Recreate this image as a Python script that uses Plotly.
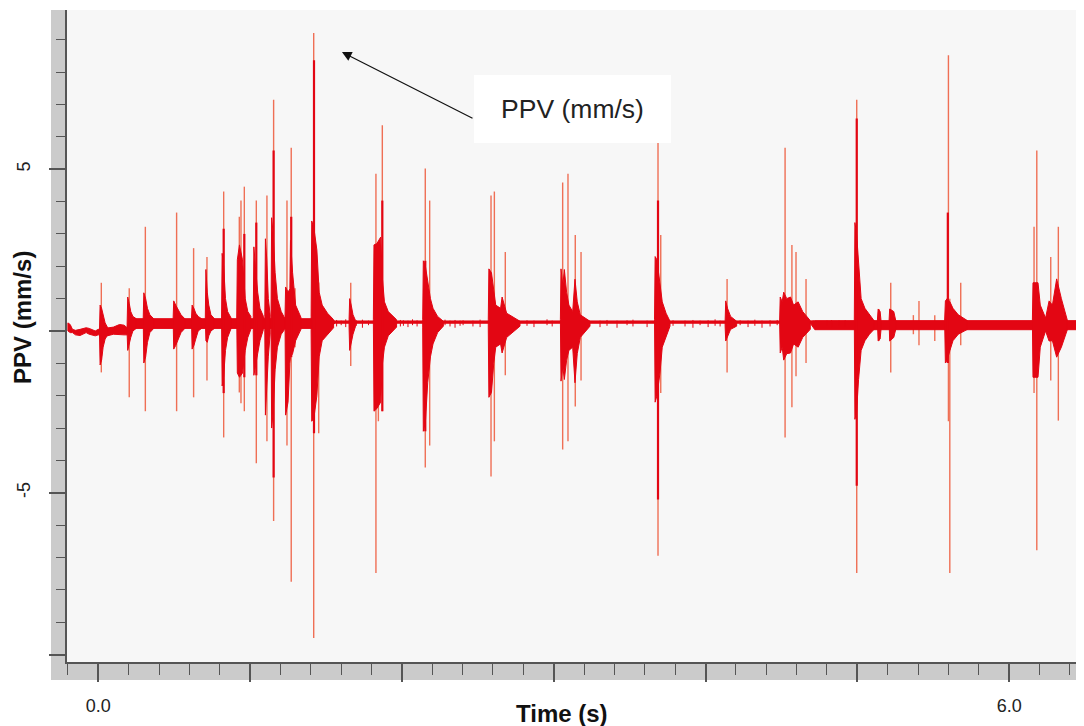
import plotly.graph_objects as go

# ---------------- data ----------------
# thin spikes: time (s), max and min PPV (mm/s)
spike_t = [0.020, 0.204, 0.310, 0.516, 0.628, 0.716, 0.826, 0.929, 0.940, 0.962,
           1.041, 1.111, 1.155, 1.243, 1.271, 1.296, 1.419, 1.452,
           1.663, 1.829, 1.845, 1.871, 2.154, 2.183, 2.587, 2.609, 2.681,
           3.059, 3.094, 3.142, 3.180, 3.687, 3.705, 4.142, 4.524, 4.569, 4.596, 4.662,
           4.996, 5.143, 5.220, 5.369, 5.406, 5.510, 5.600, 5.609, 5.681,
           6.164, 6.182, 6.274, 6.324]
spike_hi = [1.49, 1.32, 3.22, 3.66, 2.56, 2.29, 4.31, 3.53, 4.03, 4.46,
            4.03, 4.19, 7.15, 4.03, 5.66, 1.32, 9.21, 1.50,
            1.49, 4.86, 2.00, 6.36, 5.02, 4.03, 4.19, 4.31, 2.44,
            4.59, 4.86, 2.97, 2.44, 5.83, 2.97, 1.61, 5.66, 2.66, 2.44, 1.61,
            7.15, 0.68, 1.49, 0.49, 0.93, 0.49, 8.52, 1.00, 1.49,
            3.22, 5.58, 2.29, 3.22]
spike_lo = [-1.28, -2.05, -2.48, -2.48, -2.05, -1.53, -3.29, -1.90, -2.23, -2.48,
            -4.09, -3.41, -5.87, -3.54, -7.75, -0.50, -9.49, -3.16,
            -1.08, -7.48, -2.79, -2.48, -4.22, -3.54, -4.50, -3.41, -1.37,
            -3.66, -3.41, -2.33, -1.53, -6.95, -1.92, -1.28, -3.29, -2.36, -1.40, -0.99,
            -7.48, -0.31, -1.28, -0.10, -0.44, -0.31, -2.79, -7.48, -0.44,
            -1.92, -6.78, -1.53, -2.77]

# dark narrow cores of the strongest spikes
core_t = [0.826, 0.962, 1.041, 1.155, 1.271, 1.421, 1.871, 2.154, 3.687, 4.996, 5.596]
core_hi = [3.16, 3.00, 3.35, 5.58, 3.53, 8.37, 4.03, 2.17, 4.03, 6.57, 3.66]
core_lo = [-1.92, -1.43, -1.37, -4.53, -0.81, -3.16, -2.48, -3.10, -5.21, -4.78, -0.99]

# small noise ticks on the quiet stretches of the trace
noise_t = [1.570, 1.600, 1.630, 1.700, 1.740, 1.780, 1.990, 2.010, 2.040, 2.070, 2.100,
           2.218, 2.251, 2.284, 2.317, 2.350, 2.383, 2.403, 2.468, 2.515,
           2.824, 2.870, 2.956, 2.990, 3.305, 3.351, 3.417, 3.483, 3.522, 3.615,
           3.786, 3.865, 3.917, 3.964, 4.017, 4.063, 4.096, 4.228, 4.280, 4.325,
           4.372, 4.425, 4.472, 4.800, 4.830, 4.880, 4.920]
noise_hi = [0.34, 0.32, 0.36, 0.33, 0.35, 0.32, 0.34, 0.33, 0.32, 0.36, 0.33,
            0.33, 0.32, 0.35, 0.32, 0.34, 0.32, 0.33, 0.32, 0.35,
            0.33, 0.32, 0.36, 0.32, 0.32, 0.34, 0.32, 0.33, 0.35, 0.32,
            0.33, 0.32, 0.34, 0.32, 0.33, 0.36, 0.32, 0.33, 0.32, 0.35,
            0.32, 0.33, 0.34, 0.32, 0.33, 0.32, 0.33]
noise_lo = [0.14, 0.18, 0.12, 0.16, 0.10, 0.18, 0.14, 0.16, 0.12, 0.18, 0.14,
            0.16, 0.12, 0.18, 0.14, 0.10, 0.16, 0.18, 0.14, 0.12,
            0.16, 0.12, 0.18, 0.14, 0.12, 0.16, 0.10, 0.18, 0.14, 0.12,
            0.16, 0.14, 0.10, 0.18, 0.12, 0.16, 0.14, 0.18, 0.12, 0.16,
            0.10, 0.14, 0.18, 0.16, 0.12, 0.18, 0.14]

# envelopes of the dense bursts
burst_t = [
    [0.008, 0.012, 0.022, 0.032, 0.045, 0.062],
    [0.190, 0.194, 0.204, 0.214, 0.228, 0.250],
    [0.296, 0.300, 0.312, 0.324, 0.340, 0.365],
    [0.493, 0.497, 0.510, 0.525, 0.545, 0.570],
    [0.614, 0.618, 0.630, 0.642, 0.658, 0.680],
    [0.705, 0.709, 0.718, 0.728, 0.742, 0.765],
    [0.812, 0.816, 0.826, 0.838, 0.852, 0.875],
    [0.912, 0.916, 0.930, 0.950, 0.968, 0.985, 1.005],
    [1.021, 1.025, 1.035, 1.050, 1.065, 1.088],
    [1.097, 1.101, 1.110, 1.120, 1.132],
    [1.138, 1.142, 1.152, 1.165, 1.180, 1.205, 1.228],
    [1.230, 1.234, 1.250, 1.262, 1.266, 1.280, 1.300, 1.335],
    [1.402, 1.406, 1.420, 1.440, 1.455, 1.475, 1.510, 1.550],
    [1.652, 1.656, 1.666, 1.678, 1.695],
    [1.812, 1.816, 1.835, 1.860, 1.872, 1.885, 1.910, 1.965],
    [2.137, 2.141, 2.155, 2.170, 2.188, 2.205, 2.235, 2.273],
    [2.569, 2.573, 2.590, 2.605, 2.618, 2.650, 2.660, 2.690, 2.778],
    [3.044, 3.048, 3.060, 3.070, 3.085, 3.100, 3.125, 3.140, 3.155, 3.175, 3.239],
    [3.664, 3.668, 3.680, 3.700, 3.715, 3.740, 3.766],
    [4.129, 4.133, 4.145, 4.165, 4.205],
    [4.488, 4.492, 4.505, 4.515, 4.535, 4.560, 4.580, 4.610, 4.640, 4.690],
    [4.980, 4.984, 4.995, 5.008, 5.025, 5.050, 5.080, 5.110],
    [5.132, 5.137, 5.150, 5.156],
    [5.209, 5.213, 5.240, 5.253],
    [5.575, 5.580, 5.592, 5.610, 5.630, 5.665, 5.725],
    [6.153, 6.157, 6.190, 6.205, 6.240, 6.263, 6.285, 6.313, 6.344, 6.384],
]
burst_hi = [
    [0.05, 0.80, 0.70, 0.45, 0.25, 0.10],
    [0.20, 1.05, 0.85, 0.60, 0.45, 0.38],
    [0.38, 1.18, 1.00, 0.70, 0.50, 0.38],
    [0.38, 0.93, 0.80, 0.65, 0.50, 0.38],
    [0.38, 0.80, 0.70, 0.55, 0.45, 0.38],
    [0.38, 1.90, 1.20, 0.80, 0.50, 0.38],
    [0.38, 2.40, 2.00, 1.00, 0.60, 0.40],
    [0.40, 2.20, 2.66, 2.20, 1.00, 0.60, 0.45],
    [0.45, 2.60, 2.00, 1.20, 0.70, 0.45],
    [0.45, 2.85, 2.20, 1.00, 0.50],
    [0.45, 3.50, 3.00, 1.80, 1.00, 0.60, 0.40],
    [0.45, 1.36, 1.20, 1.30, 2.80, 1.80, 0.80, 0.42],
    [0.45, 3.40, 3.20, 2.50, 1.20, 0.80, 0.55, 0.35],
    [0.35, 1.00, 0.80, 0.50, 0.32],
    [0.35, 2.66, 2.70, 2.90, 1.60, 0.90, 0.60, 0.35],
    [0.35, 2.17, 2.00, 1.50, 1.00, 0.70, 0.45, 0.30],
    [0.35, 1.92, 1.80, 1.30, 0.80, 0.70, 1.05, 0.55, 0.30],
    [0.35, 1.92, 1.40, 1.90, 1.20, 0.80, 0.60, 1.60, 0.90, 0.50, 0.30],
    [0.35, 2.30, 2.20, 1.50, 0.90, 0.55, 0.30],
    [0.30, 0.93, 0.70, 0.45, 0.30],
    [0.30, 1.05, 0.90, 1.20, 1.00, 1.05, 0.80, 0.90, 0.60, 0.32],
    [0.32, 3.35, 3.00, 2.00, 1.00, 0.70, 0.50, 0.32],
    [0.32, 0.68, 0.60, 0.32],
    [0.32, 0.68, 0.60, 0.32],
    [0.32, 0.93, 1.00, 0.90, 0.70, 0.50, 0.32],
    [0.32, 1.49, 1.49, 0.80, 0.40, 0.93, 0.80, 1.61, 1.00, 0.32],
]
burst_lo = [
    [-0.10, -1.05, -0.90, -0.50, -0.25, -0.12],
    [-0.05, -0.60, -0.45, -0.20, 0.00, 0.08],
    [0.08, -0.99, -0.80, -0.35, -0.05, 0.08],
    [0.08, -0.56, -0.45, -0.30, -0.05, 0.08],
    [0.08, -0.56, -0.45, -0.25, 0.00, 0.08],
    [0.08, -0.30, -0.35, -0.15, 0.00, 0.08],
    [0.05, -1.70, -1.40, -0.60, -0.20, 0.08],
    [0.05, -1.30, -1.43, -1.30, -0.60, -0.20, 0.05],
    [0.00, -1.37, -1.20, -0.70, -0.30, 0.05],
    [0.00, -2.60, -2.00, -0.80, -0.10],
    [0.00, -3.00, -2.50, -1.20, -0.50, -0.10, 0.05],
    [0.00, -2.60, -2.20, -1.00, -0.81, -0.70, -0.30, 0.05],
    [0.00, -2.79, -2.70, -2.00, -0.80, -0.30, -0.10, 0.10],
    [0.12, -0.60, -0.45, -0.10, 0.15],
    [0.12, -2.48, -2.40, -2.20, -1.00, -0.50, -0.15, 0.12],
    [0.12, -3.10, -2.80, -1.60, -0.80, -0.40, -0.05, 0.15],
    [0.12, -2.05, -1.90, -1.00, -0.50, -0.40, -0.68, -0.20, 0.15],
    [0.12, -1.55, -1.10, -1.50, -0.90, -0.60, -0.50, -1.60, -0.70, -0.20, 0.15],
    [0.12, -2.20, -2.00, -1.30, -0.50, -0.15, 0.15],
    [0.15, -0.31, -0.20, 0.05, 0.15],
    [0.15, -0.68, -0.50, -0.90, -0.70, -0.68, -0.40, -0.50, -0.20, 0.05],
    [0.05, -2.73, -2.50, -1.50, -0.60, -0.30, -0.10, 0.05],
    [0.05, -0.31, -0.25, 0.05],
    [0.05, -0.31, -0.20, 0.05],
    [0.05, -0.99, -0.90, -0.60, -0.30, -0.10, 0.05],
    [0.05, -1.43, -1.43, -0.50, 0.00, -0.31, -0.30, -0.81, -0.50, 0.05],
]

# background noise band of the trace
base_t = [-0.200, -0.185, -0.170, -0.150, -0.120, -0.080, -0.060, -0.020, 0.000, 0.060,
          0.100, 0.140, 0.170, 0.190, 0.205, 1.500, 1.560, 4.690, 4.720, 6.500]
base_hi = [0.25, 0.20, 0.05, 0.02, 0.05, 0.10, 0.08, 0.00, 0.05, 0.10,
           0.12, 0.20, 0.18, 0.10, 0.38, 0.38, 0.31, 0.31, 0.32, 0.32]
base_lo = [0.00, -0.05, -0.05, -0.12, -0.14, -0.05, -0.10, -0.15, -0.12, -0.15,
           -0.10, -0.12, -0.12, -0.12, 0.08, 0.08, 0.24, 0.24, 0.04, 0.04]

x_major = [0, 1, 2, 3, 4, 5, 6]
x_labels = ["0.0", "", "", "", "", "", "6.0"]
y_major = [-10, -5, 0, 5]
y_labels = ["", "-5", "", "5"]

RED = "#e30613"
THIN = "#ef6f55"
FONT = "Arial, Liberation Sans, sans-serif"


def segments(ts, his, los):
    xs, ys = [], []
    for t, hi, lo in zip(ts, his, los):
        xs += [t, t, None]
        ys += [lo, hi, None]
    return xs, ys


sx, sy = segments(spike_t, spike_hi, spike_lo)
cx, cy = segments(core_t, core_hi, core_lo)
nx, ny = segments(noise_t, noise_hi, noise_lo)

bx, by = [], []
for ts, his, los in zip(burst_t, burst_hi, burst_lo):
    bx += ts + ts[::-1] + [ts[0], None]
    by += his + los[::-1] + [his[0], None]

fig = go.Figure()
fig.add_trace(go.Scatter(x=sx, y=sy, mode="lines", line=dict(color=THIN, width=1.4),
                         hoverinfo="skip"))
fig.add_trace(go.Scatter(x=base_t + base_t[::-1] + [base_t[0]],
                         y=base_hi + base_lo[::-1] + [base_hi[0]],
                         mode="lines", fill="toself", fillcolor=RED,
                         line=dict(color=RED, width=1), hoverinfo="skip"))
fig.add_trace(go.Scatter(x=nx, y=ny, mode="lines", line=dict(color=RED, width=1),
                         hoverinfo="skip"))
fig.add_trace(go.Scatter(x=bx, y=by, mode="lines", fill="toself", fillcolor=RED,
                         line=dict(color=RED, width=1), hoverinfo="skip"))
fig.add_trace(go.Scatter(x=cx, y=cy, mode="lines", line=dict(color=RED, width=2.2),
                         hoverinfo="skip"))

# the page body adds an 8 px margin: size the figure so the plot lands where the
# reference has it
W, H = 1076, 718
ML, MR, MT, MB = 59, 0, 2, 64
PW = W - ML - MR
PH = H - MT - MB

# grey tick bands around the frame
fig.add_shape(type="rect", xref="paper", yref="paper", x0=-16 / PW, x1=0, y0=-18 / PH, y1=1,
              fillcolor="#cbcbcb", line_width=0, layer="below")
fig.add_shape(type="rect", xref="paper", yref="paper", x0=-16 / PW, x1=1, y0=-18 / PH, y1=0,
              fillcolor="#cbcbcb", line_width=0, layer="below")

fig.update_layout(
    width=W, height=H,
    margin=dict(l=ML, r=MR, t=MT, b=MB, autoexpand=False),
    plot_bgcolor="#f7f7f7", paper_bgcolor="white",
    showlegend=False,
    font=dict(family=FONT, color="#222"),
    xaxis=dict(range=[-0.206, 6.493], showgrid=False, zeroline=False, automargin=False,
               showline=True, linecolor="#555", linewidth=1.5,
               ticks="outside", tickmode="array", tickvals=x_major, ticktext=x_labels,
               ticklen=18, tickwidth=1.5, tickcolor="#555",
               tickfont=dict(size=18, color="#222"), ticklabelstandoff=9,
               minor=dict(tickmode="linear", tick0=0, dtick=0.2, ticks="outside",
                          ticklen=11, tickwidth=1.2, tickcolor="#555", showgrid=False)),
    yaxis=dict(range=[-10.23, 9.92], showgrid=False, zeroline=False, automargin=False,
               showline=True, linecolor="#555", linewidth=1.5,
               ticks="outside", tickmode="array", tickvals=y_major, ticktext=y_labels,
               ticklen=16, tickwidth=1.5, tickcolor="#555", tickangle=-90,
               tickfont=dict(size=18, color="#222"), ticklabelstandoff=12,
               minor=dict(tickmode="linear", tick0=0, dtick=1, ticks="outside",
                          ticklen=9, tickwidth=1.2, tickcolor="#555", showgrid=False)),
)

# axis titles
fig.add_annotation(text="<b>PPV (mm/s)</b>", xref="paper", yref="paper",
                   x=(22 - 67) / PW, y=(662 - 318) / PH, textangle=-90,
                   xanchor="center", yanchor="middle",
                   showarrow=False, font=dict(size=24, color="#111"))
fig.add_annotation(text="<b>Time (s)</b>", xref="paper", yref="paper",
                   x=(562 - 67) / PW, y=(662 - 713) / PH,
                   xanchor="center", yanchor="middle",
                   showarrow=False, font=dict(size=24, color="#111"))

# callout box with arrow
fig.add_annotation(text="", x=1.605, y=8.62, ax=2.475, ay=6.55,
                   xref="x", yref="y", axref="x", ayref="y",
                   showarrow=True, arrowhead=2, arrowsize=1.6, arrowwidth=1.2,
                   arrowcolor="#111", standoff=0)
fig.add_annotation(text="PPV (mm/s)", xref="paper", yref="paper",
                   x=(572.5 - 67) / PW, y=(662 - 109) / PH,
                   xanchor="center", yanchor="middle", width=197, height=68,
                   bgcolor="white", borderpad=0, borderwidth=0, showarrow=False,
                   font=dict(size=26.5, color="#222"))

fig.write_html("out.html")
